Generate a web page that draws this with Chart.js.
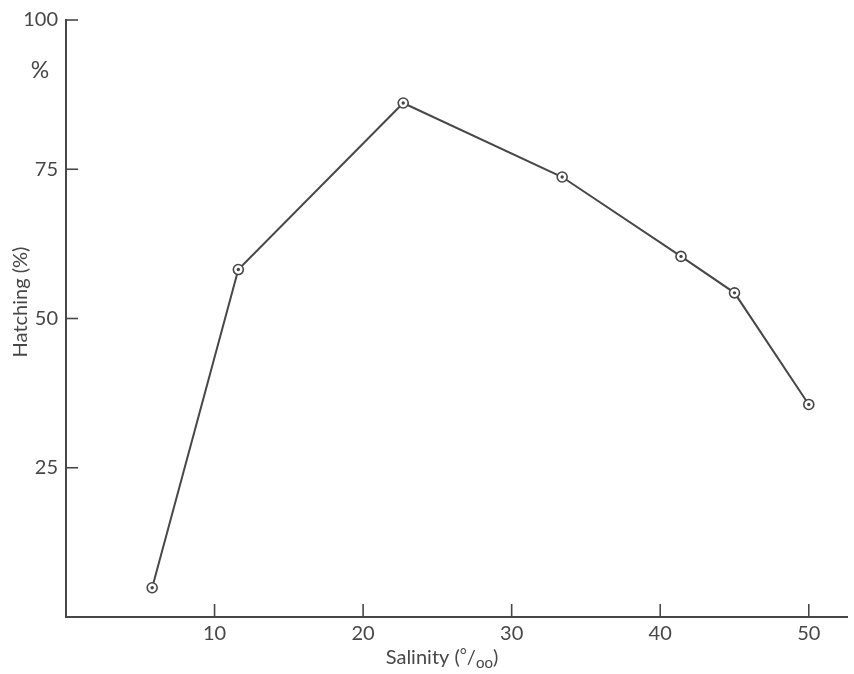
<!DOCTYPE html>
<html><head><meta charset="utf-8">
<script src="https://cdn.jsdelivr.net/npm/chart.js@4"></script>
<style>html,body{margin:0;padding:0;background:#fff}#wrap{width:854px;height:674px;position:relative}</style>
</head><body><div id="wrap"><canvas id="c"></canvas></div>
<script>
const salinity = [5.8, 11.6, 22.7, 33.4, 41.4, 45.0, 50.0];
const hatching = [4.9, 58.2, 86.1, 73.7, 60.4, 54.3, 35.6];
const xTicks = [10, 20, 30, 40, 50];
const yTicks = [25, 50, 75, 100];
const xTitle = ['Salinity (', '°', '/', 'oo', ')'];
const yTitle = 'Hatching (%)';
const yUnit = '%';

const INK = '#474747';
const FONT = 'Lato, "Open Sans", sans-serif';

const points = salinity.map((x, i) => ({x, y: hatching[i]}));

const extras = {
  id: 'extras',
  afterDraw(chart) {
    const ctx = chart.ctx;
    const xs = chart.scales.x, ys = chart.scales.y;
    const a = chart.chartArea;
    ctx.save();
    ctx.strokeStyle = INK;
    ctx.lineWidth = 1.6;
    // inward tick marks
    xTicks.forEach(v => {
      const px = xs.getPixelForValue(v);
      ctx.beginPath(); ctx.moveTo(px, a.bottom); ctx.lineTo(px, a.bottom - 13); ctx.stroke();
    });
    yTicks.forEach(v => {
      const py = ys.getPixelForValue(v);
      ctx.beginPath(); ctx.moveTo(a.left, py); ctx.lineTo(a.left + 12, py); ctx.stroke();
    });
    ctx.fillStyle = INK;
    // "%" unit near top
    ctx.font = '23px ' + FONT;
    ctx.textAlign = 'center'; ctx.textBaseline = 'middle';
    ctx.fillText(yUnit, 40, 71);
    // y title
    ctx.save();
    ctx.translate(21, 302);
    ctx.rotate(-Math.PI / 2);
    ctx.font = '20px ' + FONT;
    ctx.fillText(yTitle, 0, 0);
    ctx.restore();
    // x title with per-mille style
    const big = '20px ' + FONT, sup = '17px ' + FONT, small = '15px ' + FONT;
    const fonts = [big, sup, big, small, big];
    const dy = [0, -3, 0, 4, 0];
    let widths = xTitle.map((t, i) => { ctx.font = fonts[i]; return ctx.measureText(t).width; });
    const total = widths.reduce((s, w) => s + w, 0);
    let cx = 442 - total / 2;
    const base = 664;
    ctx.textAlign = 'left'; ctx.textBaseline = 'alphabetic';
    xTitle.forEach((t, i) => {
      ctx.font = fonts[i];
      ctx.fillText(t, cx, base + dy[i]);
      cx += widths[i];
    });
    ctx.restore();
  }
};

new Chart(document.getElementById('c'), {
  type: 'scatter',
  data: {
    datasets: [
      {
        data: points,
        showLine: true,
        borderColor: INK,
        borderWidth: 2,
        pointRadius: 5,
        pointBorderWidth: 1.6,
        pointBackgroundColor: '#fff',
        pointBorderColor: INK,
        tension: 0,
        clip: false,
        order: 2
      },
      {
        data: points,
        showLine: false,
        pointRadius: 1.7,
        pointBorderWidth: 0,
        pointBackgroundColor: INK,
        clip: false,
        order: 1
      }
    ]
  },
  options: {
    responsive: true,
    maintainAspectRatio: false,
    animation: false,
    layout: {padding: {top: 16, right: 5, left: 0, bottom: 0}},
    plugins: {legend: {display: false}, tooltip: {enabled: false}},
    scales: {
      x: {
        type: 'linear', min: 0, max: 52.6,
        afterBuildTicks: s => { s.ticks = xTicks.map(v => ({value: v})); },
        afterFit: s => { s.height = 57; },
        grid: {display: false, drawTicks: false},
        border: {display: true, color: INK, width: 2},
        ticks: {color: INK, font: {family: FONT, size: 20}, padding: 5, maxRotation: 0, autoSkip: false}
      },
      y: {
        type: 'linear', min: 0, max: 100,
        afterBuildTicks: s => { s.ticks = yTicks.map(v => ({value: v})); },
        afterFit: s => { s.width = 66; },
        grid: {display: false, drawTicks: false},
        border: {display: true, color: INK, width: 2},
        ticks: {color: INK, font: {family: FONT, size: 20}, padding: 8, autoSkip: false}
      }
    }
  },
  plugins: [extras]
});
</script>
</body></html>
